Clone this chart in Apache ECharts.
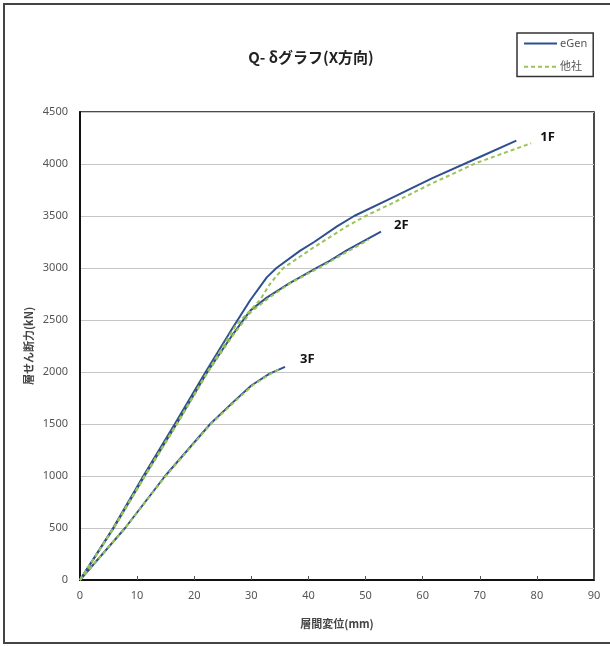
<!DOCTYPE html>
<html>
<head>
<meta charset="utf-8">
<script src="https://cdn.jsdelivr.net/npm/echarts@6/dist/echarts.min.js"></script>
<style>
  html, body { margin: 0; padding: 0; background: #fff; }
  #chart { width: 610px; height: 646px; }
</style>
</head>
<body>
<div id="chart"></div>
<script>
// Story drift (mm) vs. story shear (kN), pairs of [drift, shear]
const eGen1F = [[0,0],[5.8,500],[11.1,1000],[16.6,1500],[22,2000],[26.8,2430],[29.8,2690],[32.7,2910],[34.4,3000],[38.5,3165],[41,3250],[45,3400],[48,3500],[53.7,3650],[61.7,3865],[69.9,4065],[76.4,4225]];
const other1F = [[0,0],[5.9,500],[11.3,1000],[16.9,1500],[22.3,2000],[27.3,2450],[31.5,2690],[33.3,2850],[35.6,3000],[40.7,3190],[46.7,3400],[50,3500],[54.2,3610],[61.5,3810],[69.4,4010],[79,4200]];
const eGen2F = [[0,0],[5.9,500],[11.3,1000],[16.9,1500],[22.3,2000],[26.8,2365],[29.8,2590],[32.7,2715],[36.7,2855],[38.5,2910],[41.6,3005],[43.8,3070],[46.7,3170],[52.7,3350]];
const other2F = [[0,0],[5.9,500],[11.4,1000],[17,1500],[22.4,2000],[27,2370],[30,2580],[33,2710],[37,2860],[41.8,3000],[46.9,3160],[50.5,3270]];
const eGen3F = [[0,0],[7.9,500],[14.9,1000],[22.8,1500],[27,1720],[30,1870],[33.2,1985],[35.9,2050]];
const other3F = [[0,0],[7.9,500],[15,1000],[22.9,1500],[27.2,1720],[30.2,1870],[33,1970],[34.8,2025]];

const xTicks = { min: 0, max: 90, interval: 10 };
const yTicks = { min: 0, max: 4500, interval: 500 };

const blue = '#2F4F8F';
const green = '#9BC358';
const labelFont = 'Noto Sans, Noto Sans CJK JP, sans-serif';

function floorLabel(text, offset) {
  return {
    show: true,
    formatter: text,
    offset: offset,
    color: '#111',
    fontSize: 13,
    fontWeight: 'bold',
    fontFamily: labelFont
  };
}

function eGenSeries(data, text, offset) {
  return {
    name: 'eGen', type: 'line', data: data, symbol: 'none', z: 3,
    lineStyle: { color: blue, width: 2 },
    itemStyle: { color: blue },
    endLabel: floorLabel(text, offset)
  };
}
function otherSeries(data) {
  return {
    name: '他社', type: 'line', data: data, symbol: 'none', z: 4,
    lineStyle: { color: green, width: 2, type: [4, 3] },
    itemStyle: { color: green }
  };
}

const chart = echarts.init(document.getElementById('chart'), null, { renderer: 'canvas' });
chart.setOption({
  animation: false,
  backgroundColor: '#fff',
  title: {
    text: 'Q- δグラフ(X方向)',
    left: 306, top: 45, textAlign: 'center',
    textStyle: { fontSize: 15, fontWeight: 'bold', color: '#222', fontFamily: 'Noto Sans CJK JP, sans-serif' }
  },
  legend: {
    orient: 'vertical',
    left: 517, top: 33,
    padding: [5, 6, 4, 6],
    itemWidth: 33, itemHeight: 14, itemGap: 12,
    borderColor: '#333', borderWidth: 1.5,
    data: ['eGen', '他社'],
    itemStyle: { opacity: 0 },
    textStyle: { fontSize: 11, color: '#555', fontFamily: labelFont, padding: [0, 0, 0, -2] }
  },
  graphic: [
    { type: 'polyline', silent: true, shape: { points: [[620, 4], [4, 4], [4, 643], [620, 643]] },
      style: { stroke: '#444', lineWidth: 2, fill: null } }
  ],
  grid: {
    left: 80, top: 112, right: 16, bottom: 66,
    show: true, borderColor: '#111', borderWidth: 1.5
  },
  xAxis: {
    type: 'value', min: xTicks.min, max: xTicks.max, interval: xTicks.interval,
    name: '層間変位(mm)', nameLocation: 'middle', nameGap: 38, nameMoveOverlap: false,
    nameTextStyle: { fontSize: 11, fontWeight: 'bold', color: '#444', fontFamily: 'Noto Sans CJK JP, sans-serif' },
    axisLine: { show: true, onZero: false, lineStyle: { color: '#111', width: 2 } },
    axisTick: { show: true, inside: true, length: 4, lineStyle: { color: '#555' } },
    axisLabel: { fontSize: 11, color: '#555', margin: 10, fontFamily: labelFont },
    splitLine: { show: false }
  },
  yAxis: {
    type: 'value', min: yTicks.min, max: yTicks.max, interval: yTicks.interval,
    name: '層せん断力(kN)', nameLocation: 'middle', nameGap: 46, nameRotate: 90, nameMoveOverlap: false,
    nameTextStyle: { fontSize: 11, fontWeight: 'bold', color: '#444', fontFamily: 'Noto Sans CJK JP, sans-serif' },
    axisLine: { show: true, lineStyle: { color: '#111', width: 2 } },
    axisTick: { show: false },
    axisLabel: { fontSize: 11, color: '#555', margin: 12, fontFamily: labelFont, formatter: v => String(v) },
    splitLine: { show: true, lineStyle: { color: '#c6c6c6', width: 1 } }
  },
  series: [
    eGenSeries(eGen1F, '1F', [16, -3]),
    otherSeries(other1F),
    eGenSeries(eGen2F, '2F', [5, -6]),
    otherSeries(other2F),
    eGenSeries(eGen3F, '3F', [7, -8]),
    otherSeries(other3F)
  ]
});
</script>
</body>
</html>
